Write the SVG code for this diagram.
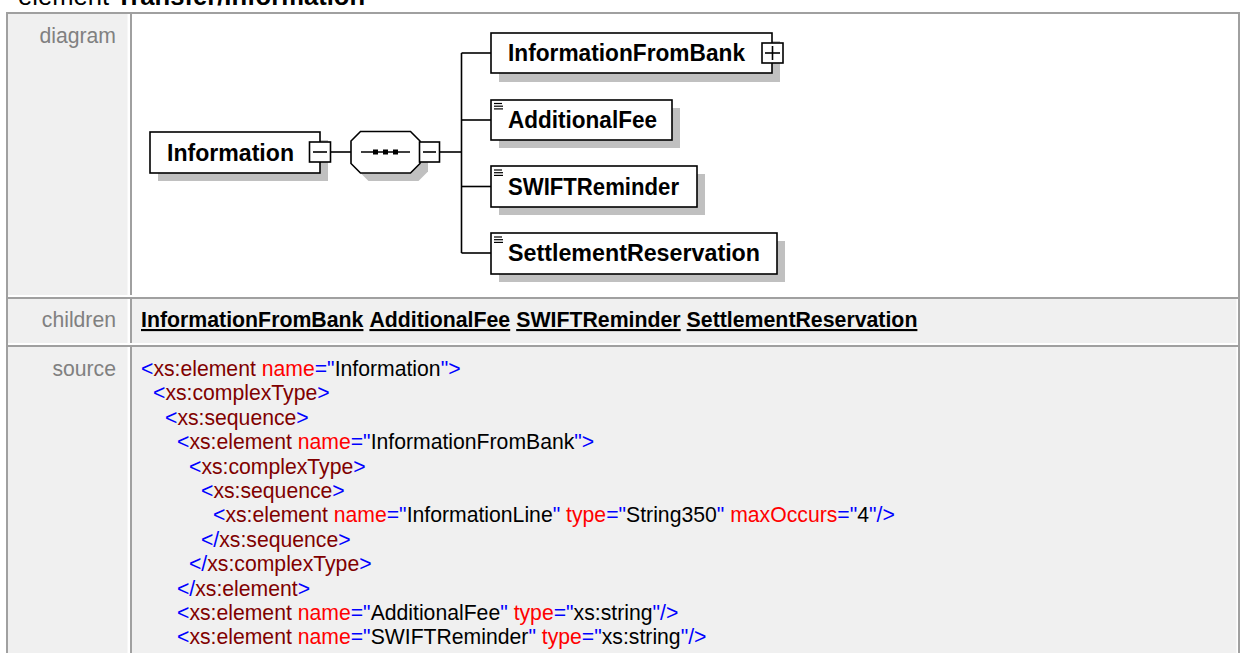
<svg xmlns="http://www.w3.org/2000/svg" width="1240" height="653" viewBox="0 0 1240 653">
<style>
.lbl{font-family:"Liberation Sans",Arial,sans-serif;font-size:21.2px;fill:#808080}
.src{font-family:"Liberation Sans",Arial,sans-serif;font-size:21.2px;fill:#000000}
.b{fill:#0000ff}.t{fill:#800000}.a{fill:#ff0000}
.child{font-family:"Liberation Sans",Arial,sans-serif;font-size:21.3px;font-weight:bold;fill:#000000;text-decoration:underline}
.dark{fill:#a0a0a0}
.lcell{fill:#f0f0f0}
.box{fill:#ffffff;stroke:#000000;stroke-width:1.6}
.shadow{fill:#c0c0c0}
.name{font-family:"Liberation Sans",Arial,sans-serif;font-size:23px;font-weight:bold;fill:#000000}
.wire{stroke:#000000;stroke-width:1.6;fill:none}
.icon{stroke:#000000;stroke-width:1.2}
</style>
<rect x="0" y="0" width="1240" height="653" fill="#ffffff"/>
<!-- title -->
<text x="18" y="5" font-family="Liberation Sans, Arial, sans-serif" font-size="25.6" fill="#000000">element <tspan font-weight="bold">Transfer/Information</tspan></text>
<!-- table -->
<g id="table">
<rect class="lcell" x="8" y="14" width="119.5" height="281"/>
<rect fill="#ffffff" x="132" y="14" width="1104.5" height="281"/>
<rect class="lcell" x="8" y="299" width="119.5" height="44"/>
<rect class="lcell" x="132" y="299" width="1104.5" height="44"/>
<rect class="lcell" x="8" y="347" width="119.5" height="306"/>
<rect class="lcell" x="132" y="347" width="1104.5" height="306"/>
<rect class="dark" x="6" y="12" width="1234" height="2"/>
<rect class="dark" x="6" y="12" width="2" height="641"/>
<rect class="dark" x="1238" y="12" width="2" height="641"/>
<rect class="dark" x="8" y="297" width="1230" height="2"/>
<rect class="dark" x="8" y="345" width="1230" height="2"/>
<rect class="dark" x="130" y="14" width="2" height="281"/>
<rect class="dark" x="130" y="299" width="2" height="44"/>
<rect class="dark" x="130" y="347" width="2" height="306"/>
<text class="lbl" x="116" y="43" text-anchor="end">diagram</text>
<text class="lbl" x="116" y="327" text-anchor="end">children</text>
<text class="lbl" x="116" y="376" text-anchor="end">source</text>
</g>
<!-- connectors -->
<g id="connectors">
<line class="wire" x1="330" y1="152" x2="351" y2="152"/>
<line class="wire" x1="439.5" y1="152" x2="461.5" y2="152"/>
<line class="wire" x1="461.5" y1="53" x2="461.5" y2="253"/>
<line class="wire" x1="461.5" y1="53" x2="491" y2="53"/>
<line class="wire" x1="461.5" y1="120" x2="491" y2="120"/>
<line class="wire" x1="461.5" y1="186.5" x2="491" y2="186.5"/>
<line class="wire" x1="461.5" y1="253" x2="491" y2="253"/>
</g>
<!-- nodes -->
<g id="node-information">
<rect class="shadow" x="158" y="140" width="170" height="41"/>
<rect class="box" x="150" y="132" width="170" height="41"/>
<rect class="box" x="309.5" y="142" width="21" height="20"/>
<line class="wire" x1="313" y1="152" x2="327" y2="152"/>
<text class="name" x="167" y="160.5" textLength="127" lengthAdjust="spacingAndGlyphs">Information</text>
</g>
<g id="node-sequence">
<polygon class="shadow" points="368.5,139.5 418.5,139.5 428,149 428,171.5 418.5,181 368.5,181 359,171.5 359,149"/>
<polygon class="box" points="360.5,131.5 410.5,131.5 420,141 420,163.5 410.5,173 360.5,173 351,163.5 351,141"/>
<line class="wire" x1="361" y1="152" x2="410" y2="152"/>
<rect x="373" y="149.5" width="5" height="5" fill="#000000"/>
<rect x="383" y="149.5" width="5" height="5" fill="#000000"/>
<rect x="393" y="149.5" width="5" height="5" fill="#000000"/>
<rect class="box" x="419.5" y="142" width="20" height="20"/>
<line class="wire" x1="423" y1="152" x2="436" y2="152"/>
</g>
<g id="node-informationfrombank">
<rect class="shadow" x="499" y="41" width="281" height="41"/>
<rect class="box" x="491" y="33" width="281" height="40"/>
<rect class="box" x="762" y="43" width="21" height="20"/>
<line class="wire" x1="765" y1="53" x2="780" y2="53"/>
<line class="wire" x1="772.5" y1="46" x2="772.5" y2="60"/>
<text class="name" x="508" y="61" textLength="237" lengthAdjust="spacingAndGlyphs">InformationFromBank</text>
</g>
<g id="node-additionalfee">
<rect class="shadow" x="499" y="108" width="181" height="40"/>
<rect class="box" x="491" y="100" width="181" height="40"/>
<line class="icon" x1="494" y1="103.5" x2="502" y2="103.5"/>
<line class="icon" x1="494" y1="106.2" x2="503" y2="106.2"/>
<line class="icon" x1="494" y1="108.9" x2="503" y2="108.9"/>
<text class="name" x="508" y="128" textLength="149" lengthAdjust="spacingAndGlyphs">AdditionalFee</text>
</g>
<g id="node-swiftreminder">
<rect class="shadow" x="499" y="174" width="206" height="41"/>
<rect class="box" x="491" y="166" width="206" height="41"/>
<line class="icon" x1="494" y1="170" x2="502" y2="170"/>
<line class="icon" x1="494" y1="172.7" x2="503" y2="172.7"/>
<line class="icon" x1="494" y1="175.4" x2="503" y2="175.4"/>
<text class="name" x="508" y="194.5" textLength="171" lengthAdjust="spacingAndGlyphs">SWIFTReminder</text>
</g>
<g id="node-settlementreservation">
<rect class="shadow" x="499" y="241" width="286" height="41"/>
<rect class="box" x="491" y="233" width="286" height="41"/>
<line class="icon" x1="494" y1="237" x2="502" y2="237"/>
<line class="icon" x1="494" y1="239.7" x2="503" y2="239.7"/>
<line class="icon" x1="494" y1="242.4" x2="503" y2="242.4"/>
<text class="name" x="508" y="261" textLength="252" lengthAdjust="spacingAndGlyphs">SettlementReservation</text>
</g>
<!-- children -->
<g id="children">
<text class="child" x="141" y="327">InformationFromBank</text>
<text class="child" x="369.4" y="327">AdditionalFee</text>
<text class="child" x="516.2" y="327">SWIFTReminder</text>
<text class="child" x="686.6" y="327">SettlementReservation</text>
</g>
<!-- source -->
<g id="source" class="src">
<text x="141" y="376"><tspan class="b">&lt;</tspan><tspan class="t">xs:element</tspan> <tspan class="a">name</tspan><tspan class="b">="</tspan>Information<tspan class="b">"&gt;</tspan></text>
<text x="153" y="400.4"><tspan class="b">&lt;</tspan><tspan class="t">xs:complexType</tspan><tspan class="b">&gt;</tspan></text>
<text x="165" y="424.8"><tspan class="b">&lt;</tspan><tspan class="t">xs:sequence</tspan><tspan class="b">&gt;</tspan></text>
<text x="177" y="449.2"><tspan class="b">&lt;</tspan><tspan class="t">xs:element</tspan> <tspan class="a">name</tspan><tspan class="b">="</tspan>InformationFromBank<tspan class="b">"&gt;</tspan></text>
<text x="189" y="473.6"><tspan class="b">&lt;</tspan><tspan class="t">xs:complexType</tspan><tspan class="b">&gt;</tspan></text>
<text x="201" y="498"><tspan class="b">&lt;</tspan><tspan class="t">xs:sequence</tspan><tspan class="b">&gt;</tspan></text>
<text x="213" y="522.4"><tspan class="b">&lt;</tspan><tspan class="t">xs:element</tspan> <tspan class="a">name</tspan><tspan class="b">="</tspan>InformationLine<tspan class="b">"</tspan> <tspan class="a">type</tspan><tspan class="b">="</tspan>String350<tspan class="b">"</tspan> <tspan class="a">maxOccurs</tspan><tspan class="b">="</tspan>4<tspan class="b">"/&gt;</tspan></text>
<text x="201" y="546.8"><tspan class="b">&lt;/</tspan><tspan class="t">xs:sequence</tspan><tspan class="b">&gt;</tspan></text>
<text x="189" y="571.2"><tspan class="b">&lt;/</tspan><tspan class="t">xs:complexType</tspan><tspan class="b">&gt;</tspan></text>
<text x="177" y="595.6"><tspan class="b">&lt;/</tspan><tspan class="t">xs:element</tspan><tspan class="b">&gt;</tspan></text>
<text x="177" y="620"><tspan class="b">&lt;</tspan><tspan class="t">xs:element</tspan> <tspan class="a">name</tspan><tspan class="b">="</tspan>AdditionalFee<tspan class="b">"</tspan> <tspan class="a">type</tspan><tspan class="b">="</tspan>xs:string<tspan class="b">"/&gt;</tspan></text>
<text x="177" y="644.4"><tspan class="b">&lt;</tspan><tspan class="t">xs:element</tspan> <tspan class="a">name</tspan><tspan class="b">="</tspan>SWIFTReminder<tspan class="b">"</tspan> <tspan class="a">type</tspan><tspan class="b">="</tspan>xs:string<tspan class="b">"/&gt;</tspan></text>
</g>
</svg>
